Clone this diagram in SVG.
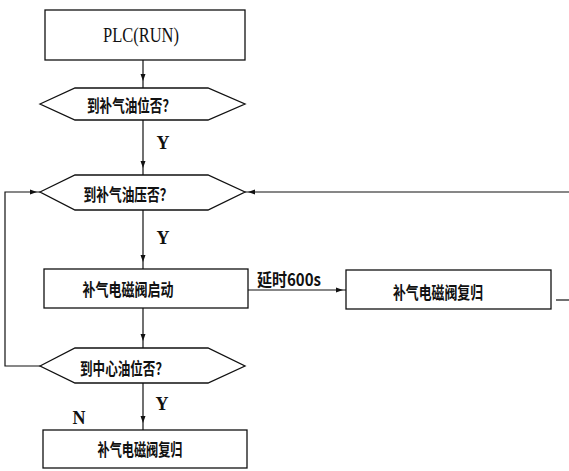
<svg xmlns="http://www.w3.org/2000/svg" width="569" height="471" viewBox="0 0 569 471">
<style>
.box{fill:#fff;stroke:#111;stroke-width:1.3}
.ln{fill:none;stroke:#111;stroke-width:1.2}
.cn{font-family:"Noto Sans CJK SC","Noto Sans",sans-serif;font-weight:bold;font-size:17px;fill:#111;text-anchor:middle;dominant-baseline:central}
.lat{font-family:"Liberation Serif",serif;fill:#111;text-anchor:middle;dominant-baseline:central}
</style>
<defs>
<marker id="ah" markerUnits="userSpaceOnUse" markerWidth="20" markerHeight="10" viewBox="0 0 20 10" refX="14" refY="5" orient="auto">
<path d="M0,2.5 L7,5 L0,7.5 Z" fill="#111"/>
</marker>
<marker id="ah2" markerUnits="userSpaceOnUse" markerWidth="20" markerHeight="10" viewBox="0 0 20 10" refX="10" refY="5" orient="auto">
<path d="M0,2.5 L7,5 L0,7.5 Z" fill="#111"/>
</marker>
</defs>
<rect width="569" height="471" fill="#fff"/>
<g id="connectors">
<line class="ln" x1="143" y1="60" x2="143" y2="88" marker-end="url(#ah)"/>
<line class="ln" x1="143" y1="120" x2="143" y2="175" marker-end="url(#ah)"/>
<line class="ln" x1="143" y1="210" x2="143" y2="269" marker-end="url(#ah)"/>
<line class="ln" x1="143" y1="308" x2="143" y2="348" marker-end="url(#ah)"/>
<line class="ln" x1="143" y1="383" x2="143" y2="430" marker-end="url(#ah)"/>
<line class="ln" x1="248" y1="290" x2="346" y2="290" marker-end="url(#ah2)"/>
<line class="ln" x1="569" y1="192" x2="245" y2="192" marker-end="url(#ah2)"/>
<polyline class="ln" points="40,366 5,366 5,192 40,192" marker-end="url(#ah2)"/>
<line class="ln" x1="556" y1="300" x2="569" y2="300"/>
<text class="cn" x="289" y="278" font-size="16" textLength="64" lengthAdjust="spacingAndGlyphs">延时600s</text>
<text class="lat" x="163" y="143" font-size="18" font-weight="bold">Y</text>
<text class="lat" x="163" y="238" font-size="18" font-weight="bold">Y</text>
<text class="lat" x="162" y="404" font-size="18" font-weight="bold">Y</text>
<text class="lat" x="79" y="418" font-size="18" font-weight="bold">N</text>
</g>
<g id="plc">
<rect class="box" x="45" y="10" width="200" height="50"/>
<text class="lat" x="141" y="35" font-size="21" textLength="76" lengthAdjust="spacingAndGlyphs">PLC(RUN)</text>
</g>
<g id="q1">
<polygon class="box" points="40,104 75,88 208,88 245,104 208,120 75,120"/>
<text class="cn" x="131" y="104" textLength="88" lengthAdjust="spacingAndGlyphs">到补气油位否？</text>
</g>
<g id="q2">
<polygon class="box" points="40,192 75,175 208,175 245,192 208,210 75,210"/>
<text class="cn" x="128" y="193" textLength="89" lengthAdjust="spacingAndGlyphs">到补气油压否？</text>
</g>
<g id="start">
<rect class="box" x="44" y="269" width="204" height="39"/>
<text class="cn" x="128" y="288" textLength="91" lengthAdjust="spacingAndGlyphs">补气电磁阀启动</text>
</g>
<g id="reset1">
<rect class="box" x="346" y="270" width="205" height="39"/>
<text class="cn" x="438" y="291" textLength="90" lengthAdjust="spacingAndGlyphs">补气电磁阀复归</text>
</g>
<g id="q3">
<polygon class="box" points="40,366 75,348 208,348 245,366 208,383 75,383"/>
<text class="cn" x="124" y="367" textLength="88" lengthAdjust="spacingAndGlyphs">到中心油位否？</text>
</g>
<g id="reset2">
<rect class="box" x="43" y="430" width="204" height="38"/>
<text class="cn" x="140" y="448" textLength="85" lengthAdjust="spacingAndGlyphs">补气电磁阀复归</text>
</g>
</svg>
